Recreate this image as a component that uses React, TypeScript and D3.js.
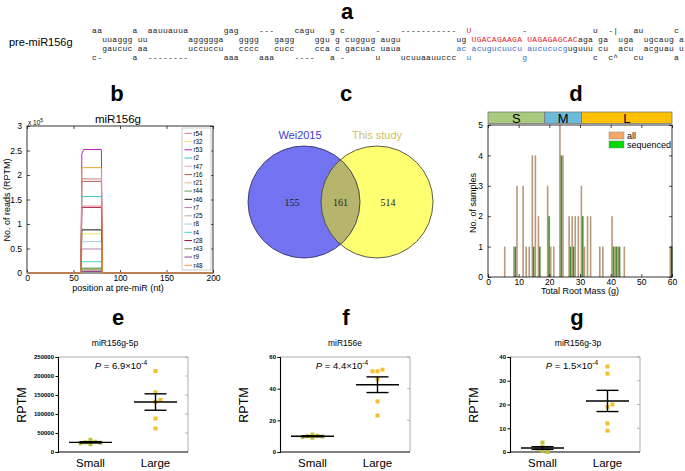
import React, { useEffect, useRef } from "react";
import * as d3 from "d3";

const FONT = "Liberation Sans, Arial, sans-serif";

// ---- a: pre-miR156g hairpin, segments alternate unpaired / paired ----
const hairpinTop = ["aa", "uuaggg", "a", "uu", "aauuauua", "aggggga", "gag", "gggg", "---", "gagg", "cagu", "ggu", "g", "g", "c", "cuggug", "-", "augu", "-----------", "ug", "U", "UGACAGAAGA", "-", "UAGAGAGCACaga", "u", "ga", "-|", "uga", "au", "ugcaug", "c", "a"];
const hairpinBottom = ["c-", "gaucuc", "a", "aa", "--------", "uccuccu", "aaa", "cccc", "aaa", "cucc", "----", "cca", "a", "c", "-", "gacuac", "u", "uaua", "ucuuaauuccc", "ac", "u", "acugucuucu", "g", "aucucucguguuu", "c", "cu", "c^", "acu", "cu", "acguau", "a", "u"];
const mature3pCols = [72, 93];

// ---- b: read coverage along pre-miR (values x10^5 RPTM) ----
const bPositions = [0, 58, 59, 61, 80, 81, 200];
const bNames = ["r54", "r32", "r53", "r2", "r47", "r16", "r21", "r44", "r46", "r7", "r25", "r8", "r4", "r28", "r43", "r9", "r48"];
const bColors = ["#c88080", "#f4e46c", "#c020c0", "#30c8c8", "#f0a8a8", "#b85858", "#e0c088", "#50a050", "#111111", "#b080b0", "#c8a8a8", "#a8c8e8", "#40d8c8", "#a01030", "#6c8c3c", "#904090", "#f0a030"];
const bLevels = [
  [0, 0, 1.92, 1.92, 1.92, 0, 0],
  [0, 0, 0.8, 0.8, 0.8, 0, 0],
  [0, 0, 2.44, 2.52, 2.52, 0, 0],
  [0, 0, 1.56, 1.56, 1.56, 0, 0],
  [0, 0, 1.37, 1.37, 1.37, 0, 0],
  [0, 0, 1.87, 1.87, 1.87, 0, 0],
  [0, 0, 0.06, 0.06, 0.06, 0, 0],
  [0, 0, 0.1, 0.1, 0.1, 0, 0],
  [0, 0, 0.88, 0.88, 0.88, 0, 0],
  [0, 0, 0.49, 0.49, 0.49, 0, 0],
  [0, 0, 0.05, 0.05, 0.05, 0, 0],
  [0, 0, 0.64, 0.64, 0.64, 0, 0],
  [0, 0, 0.23, 0.23, 0.23, 0, 0],
  [0, 0, 1.34, 1.34, 1.34, 0, 0],
  [0, 0, 0.08, 0.08, 0.08, 0, 0],
  [0, 0, 0.03, 0.03, 0.03, 0, 0],
  [0, 0, 2.15, 2.15, 2.15, 0, 0],
];
const bYTicks = [0, 0.5, 1, 1.5, 2, 2.5, 3];
const bXTicks = [0, 50, 100, 150, 200];

// ---- c: venn ----
const vennSets = ["Wei2015", "This study"];
const vennCounts = [155, 161, 514];

// ---- d: histogram of total root mass ----
const massBins = [6, 9, 10, 12, 13, 14, 15, 16, 17, 20, 21, 22, 24, 25, 27, 28, 29, 30, 31, 32, 33, 34, 37, 38, 41, 42, 43, 45, 60];
const allCounts = [1, 1, 3, 3, 1, 1, 4, 4, 2, 3, 1, 1, 5, 4, 2, 2, 2, 2, 3, 1, 2, 2, 1, 1, 2, 1, 1, 1, 1];
const seqCounts = [0, 1, 0, 0, 0, 0, 1, 0, 1, 2, 0, 0, 4, 0, 1, 1, 0, 0, 2, 0, 0, 0, 0, 0, 1, 1, 1, 0, 1];
const sizeClasses = ["S", "M", "L"];
const sizeBreaks = [0, 18.5, 30.5, 60];
const dXTicks = [0, 10, 20, 30, 40, 50, 60];
const dYTicks = [0, 1, 2, 3, 4, 5];

// ---- e, f, g: expression in small vs large roots ----
const groups = ["Small", "Large"];
const eSmall = [32000, 27000, 25500, 24500, 23000, 20500];
const eLarge = [213000, 157000, 132000, 137000, 88000, 62000];
const fSmall = [11, 10.3, 10, 9.8, 9.5, 9];
const fLarge = [51, 52, 51, 46, 32, 23];
const gSmall = [4, 2.2, 1.8, 1.4, 0.6, 0];
const gLarge = [36, 33, 19, 20, 12, 9];

const plain = (d) => String(d);

function boxAxes(g, x, y, xTicks, yTicks) {
  const [x0, x1] = x.range();
  const [y0, y1] = y.range();
  const bottom = g.append("g").attr("transform", `translate(0,${y0})`)
    .call(d3.axisBottom(x).tickValues(xTicks).tickSizeInner(-3).tickSizeOuter(0).tickPadding(1.5).tickFormat(plain));
  const left = g.append("g").attr("transform", `translate(${x0},0)`)
    .call(d3.axisLeft(y).tickValues(yTicks).tickSizeInner(-3).tickSizeOuter(0).tickPadding(5).tickFormat(plain));
  const top = g.append("g").attr("transform", `translate(0,${y1})`)
    .call(d3.axisTop(x).tickValues(xTicks).tickSizeInner(-3).tickSizeOuter(0).tickFormat(() => ""));
  const right = g.append("g").attr("transform", `translate(${x1},0)`)
    .call(d3.axisRight(y).tickValues(yTicks).tickSizeInner(-3).tickSizeOuter(0).tickFormat(() => ""));
  [bottom, left, top, right].forEach((a) => {
    a.select(".domain").remove();
    a.attr("font-family", FONT).attr("font-size", 8.5);
    a.selectAll("line").attr("stroke", "#000").attr("stroke-width", 0.7);
    a.selectAll("text").attr("fill", "#000");
  });
  g.append("rect").attr("x", x0).attr("y", y1).attr("width", x1 - x0).attr("height", y0 - y1)
    .attr("fill", "none").attr("stroke", "#000").attr("stroke-width", 0.8);
}

function dotPlot(svg, cfg) {
  const g = svg.append("g");
  const x = d3.scalePoint().domain(groups).range([cfg.x0, cfg.x0 + 130]).padding(0.5);
  const y = d3.scaleLinear().domain([0, cfg.yMax]).range([452, 357]);

  g.append("text").attr("x", cfg.titleX).attr("y", 346).attr("text-anchor", "middle")
    .attr("font-family", FONT).attr("font-size", 8.5).text(cfg.title);

  // frame: grey top/right, black left/bottom
  g.append("path").attr("d", `M${cfg.x0},357H${cfg.x0 + 130}V452`).attr("fill", "none").attr("stroke", "#999").attr("stroke-width", 0.8);
  g.append("g").selectAll("line").data(cfg.ticks.slice(1)).join("line")
    .attr("x1", cfg.x0 + 130).attr("x2", cfg.x0 + 127).attr("y1", (d) => y(d)).attr("y2", (d) => y(d))
    .attr("stroke", "#999").attr("stroke-width", 0.7);

  const ay = g.append("g").attr("transform", `translate(${cfg.x0},0)`)
    .call(d3.axisLeft(y).tickValues(cfg.ticks).tickSize(2.5).tickPadding(1.5).tickFormat(plain));
  ay.attr("font-family", FONT).attr("font-size", 6).attr("font-weight", "bold");
  ay.select(".domain").attr("stroke-width", 1.1);
  g.append("line").attr("x1", cfg.x0).attr("x2", cfg.x0 + 130).attr("y1", 452).attr("y2", 452)
    .attr("stroke", "#000").attr("stroke-width", 1.1);

  g.selectAll("text.cat").data(groups).join("text").attr("class", "cat")
    .attr("x", (d) => x(d)).attr("y", 467).attr("text-anchor", "middle")
    .attr("font-family", FONT).attr("font-size", 11.5).text((d) => d);

  g.append("text").attr("transform", `translate(${cfg.x0 - 32},405) rotate(-90)`)
    .attr("text-anchor", "middle").attr("font-family", FONT).attr("font-size", 12.5).text("RPTM");

  const pt = g.append("text").attr("x", cfg.pX).attr("y", 369).attr("text-anchor", "middle")
    .attr("font-family", FONT).attr("font-size", 9.5);
  pt.append("tspan").attr("font-style", "italic").text("P");
  pt.append("tspan").text(` = ${cfg.p}×10`);
  pt.append("tspan").attr("dy", -4).attr("font-size", 6.5).text("-4");

  [cfg.small, cfg.large].forEach((vals, gi) => {
    const cx = x(groups[gi]);
    const placed = [];
    vals.forEach((v) => {
      const py = y(v);
      const offs = [0, 5, -5, 10, -10];
      let dx = 0;
      for (const o of offs) {
        if (!placed.some((p) => Math.abs(p.dx - o) < 4 && Math.abs(p.y - py) < 3.5)) { dx = o; break; }
      }
      placed.push({ dx, y: py });
    });
    g.append("g").selectAll("rect").data(placed).join("rect")
      .attr("x", (d) => cx + d.dx - 2).attr("y", (d) => d.y - 2).attr("width", 4).attr("height", 4)
      .attr("fill", gi === 0 ? "#c2c43c" : "#f4c030");

    const m = d3.mean(vals);
    const sem = d3.deviation(vals) / Math.sqrt(vals.length);
    const eb = g.append("g").attr("stroke", "#000").attr("stroke-width", 1.4).attr("fill", "none");
    eb.append("line").attr("x1", cx - 21.5).attr("x2", cx + 21.5).attr("y1", y(m)).attr("y2", y(m));
    eb.append("line").attr("x1", cx).attr("x2", cx).attr("y1", y(m - sem)).attr("y2", y(m + sem));
    [m - sem, m + sem].forEach((v) => eb.append("line").attr("x1", cx - 11).attr("x2", cx + 11).attr("y1", y(v)).attr("y2", y(v)));
  });
}

const App = () => {
  const ref = useRef(null);

  useEffect(() => {
    const svg = d3.select(ref.current);
    svg.selectAll("*").remove();

    // panel letters
    const letters = [["a", 347, 19], ["b", 117, 101], ["c", 346, 101], ["d", 576, 101], ["e", 118, 325], ["f", 346, 325], ["g", 577, 325]];
    svg.selectAll("text.letter").data(letters).join("text").attr("class", "letter")
      .attr("x", (d) => d[1]).attr("y", (d) => d[2]).attr("text-anchor", "middle")
      .attr("font-family", FONT).attr("font-weight", "bold").attr("font-size", 22).text((d) => d[0]);

    // ---- a ----
    svg.append("text").attr("x", 9).attr("y", 46).attr("font-family", FONT).attr("font-size", 11).text("pre-miR156g");
    const chars = [];
    let col = 0;
    hairpinTop.forEach((seg, i) => {
      const paired = i % 2 === 1;
      const bot = hairpinBottom[i];
      for (let k = 0; k < seg.length; k++) {
        chars.push({ row: paired ? 1 : 0, col: col + k, ch: seg[k], top: true });
        chars.push({ row: paired ? 2 : 3, col: col + k, ch: bot[k], top: false });
      }
      col += seg.length;
    });
    const xc = d3.scaleLinear().domain([0, col]).range([92, 92 + col * 5.06]);
    const rowY = d3.scalePoint().domain([0, 1, 2, 3]).range([33, 59.5]);
    svg.append("g").attr("font-family", "Liberation Mono, monospace").attr("font-size", 8)
      .selectAll("text").data(chars.filter((c) => c.ch !== " ")).join("text")
      .attr("x", (d) => xc(d.col + 0.5)).attr("y", (d) => rowY(d.row)).attr("text-anchor", "middle")
      .attr("fill", (d) => {
        if (d.top && /[A-Z]/.test(d.ch)) return "#e2202a";
        if (!d.top && /[a-z]/.test(d.ch) && d.col >= mature3pCols[0] && d.col <= mature3pCols[1]) return "#3b6fc0";
        return "#222";
      })
      .text((d) => d.ch);

    // ---- b ----
    const gb = svg.append("g");
    const bx = d3.scaleLinear().domain([0, 200]).range([27, 213]);
    const by = d3.scaleLinear().domain([0, 3]).range([273, 126]);
    gb.append("text").attr("x", 118).attr("y", 123).attr("text-anchor", "middle").attr("font-family", FONT).attr("font-size", 11.5).text("miR156g");
    boxAxes(gb, bx, by, bXTicks, bYTicks);
    const xt = gb.append("text").attr("x", 28).attr("y", 124.5).attr("font-family", FONT).attr("font-size", 6.5).text("x 10");
    xt.append("tspan").attr("dy", -3).attr("font-size", 5).text("5");
    const line = d3.line().x((d) => bx(d[0])).y((d) => by(d[1]));
    gb.append("g").selectAll("path").data(bLevels).join("path")
      .attr("d", (vals) => line(vals.map((v, i) => [bPositions[i], v])))
      .attr("fill", "none").attr("stroke", (d, i) => bColors[i]).attr("stroke-width", 1);
    gb.append("text").attr("x", 118).attr("y", 291).attr("text-anchor", "middle").attr("font-family", FONT).attr("font-size", 9).text("position at pre-miR (nt)");
    gb.append("text").attr("transform", "translate(10,200) rotate(-90)").attr("text-anchor", "middle").attr("font-family", FONT).attr("font-size", 9).text("No. of reads (RPTM)");
    const lg = gb.append("g");
    lg.append("rect").attr("x", 182).attr("y", 128).attr("width", 29).attr("height", 142).attr("fill", "#fff").attr("stroke", "#aaa").attr("stroke-width", 0.6);
    const ly = d3.scalePoint().domain(bNames).range([133.3, 265.3]);
    const le = lg.selectAll("g").data(bNames).join("g").attr("transform", (d) => `translate(0,${ly(d)})`);
    le.append("line").attr("x1", 184.5).attr("x2", 192).attr("stroke", (d, i) => bColors[i]).attr("stroke-width", 1);
    le.append("text").attr("x", 193.5).attr("y", 2.3).attr("font-family", FONT).attr("font-size", 6.3).text((d) => d);

    // ---- c ----
    const gc = svg.append("g");
    const cx = d3.scalePoint().domain(vennSets).range([304, 377]);
    const r = 56, cy = 202;
    gc.append("clipPath").attr("id", "leftCircle").append("circle").attr("cx", cx(vennSets[0])).attr("cy", cy).attr("r", r);
    gc.append("circle").attr("cx", cx(vennSets[0])).attr("cy", cy).attr("r", r).attr("fill", "#7373f2");
    gc.append("circle").attr("cx", cx(vennSets[1])).attr("cy", cy).attr("r", r).attr("fill", "#ffff72");
    gc.append("circle").attr("cx", cx(vennSets[1])).attr("cy", cy).attr("r", r).attr("fill", "#b5b56e").attr("clip-path", "url(#leftCircle)");
    gc.append("circle").attr("cx", cx(vennSets[0])).attr("cy", cy).attr("r", r).attr("fill", "none").attr("stroke", "#2a2a55").attr("stroke-width", 0.8);
    gc.append("circle").attr("cx", cx(vennSets[1])).attr("cy", cy).attr("r", r).attr("fill", "none").attr("stroke", "#333").attr("stroke-width", 0.8);
    gc.selectAll("text.set").data(vennSets).join("text").attr("class", "set")
      .attr("x", (d, i) => cx(d) + (i === 0 ? -4 : 0)).attr("y", 139).attr("text-anchor", "middle")
      .attr("font-family", FONT).attr("font-size", 11).attr("fill", (d, i) => (i === 0 ? "#3c3cd2" : "#d2c064")).text((d) => d);
    const numX = [292, 340.5, 388];
    gc.selectAll("text.num").data(vennCounts).join("text").attr("class", "num")
      .attr("x", (d, i) => numX[i]).attr("y", 206).attr("text-anchor", "middle")
      .attr("font-family", "Liberation Serif, serif").attr("font-size", 10).attr("fill", "#222").text((d) => d);

    // ---- d ----
    const gd = svg.append("g");
    const dx = d3.scaleLinear().domain([0, 60]).range([488, 672]);
    const dy = d3.scaleLinear().domain([0, 5]).range([277, 125]);
    const bandColors = ["#a9c97f", "#6cbad8", "#ffc000"];
    gd.selectAll("rect.band").data(sizeClasses).join("rect").attr("class", "band")
      .attr("x", (d, i) => dx(sizeBreaks[i])).attr("width", (d, i) => dx(sizeBreaks[i + 1]) - dx(sizeBreaks[i]))
      .attr("y", 112).attr("height", 11.5).attr("fill", (d, i) => bandColors[i]).attr("stroke", "#7a7a7a").attr("stroke-width", 0.8);
    gd.selectAll("text.band").data(sizeClasses).join("text").attr("class", "band")
      .attr("x", (d, i) => dx((sizeBreaks[i] + sizeBreaks[i + 1]) / 2)).attr("y", 122.5).attr("text-anchor", "middle")
      .attr("font-family", FONT).attr("font-size", 13).text((d) => d);
    const bw = 1.6;
    gd.append("g").selectAll("rect").data(massBins.map((m, i) => [m, allCounts[i]]).filter((d) => d[1] > 0)).join("rect")
      .attr("x", (d) => dx(d[0] - 0.55) - bw / 2).attr("width", bw)
      .attr("y", (d) => dy(d[1])).attr("height", (d) => dy(0) - dy(d[1])).attr("fill", "#b8997c");
    gd.append("g").selectAll("rect").data(massBins.map((m, i) => [m, seqCounts[i]]).filter((d) => d[1] > 0)).join("rect")
      .attr("x", (d) => dx(d[0] - 0.1) - bw / 2).attr("width", bw)
      .attr("y", (d) => dy(d[1])).attr("height", (d) => dy(0) - dy(d[1])).attr("fill", "#478c32");
    boxAxes(gd, dx, dy, dXTicks, dYTicks);
    gd.append("text").attr("x", 580).attr("y", 294).attr("text-anchor", "middle").attr("font-family", FONT).attr("font-size", 9).text("Total Root Mass (g)");
    gd.append("text").attr("transform", "translate(476,203) rotate(-90)").attr("text-anchor", "middle").attr("font-family", FONT).attr("font-size", 9).text("No. of samples");
    const dl = [["all", "#f4a866"], ["sequenced", "#00d800"]];
    const dle = gd.selectAll("g.leg").data(dl).join("g").attr("class", "leg").attr("transform", (d, i) => `translate(0,${132 + i * 9})`);
    dle.append("rect").attr("x", 609).attr("width", 15).attr("height", 7).attr("fill", (d) => d[1]).attr("stroke", "#888").attr("stroke-width", 0.5);
    dle.append("text").attr("x", 627).attr("y", 6.5).attr("font-family", FONT).attr("font-size", 9).text((d) => d[0]);

    // ---- e, f, g ----
    dotPlot(svg, { x0: 58, yMax: 250000, ticks: [0, 50000, 100000, 150000, 200000, 250000], title: "miR156g-5p", titleX: 115, p: "6.9", pX: 121, small: eSmall, large: eLarge });
    dotPlot(svg, { x0: 280, yMax: 60, ticks: [0, 20, 40, 60], title: "miR156e", titleX: 345, p: "4.4", pX: 342, small: fSmall, large: fLarge });
    dotPlot(svg, { x0: 510, yMax: 40, ticks: [0, 10, 20, 30, 40], title: "miR156g-3p", titleX: 578, p: "1.5", pX: 572, small: gSmall, large: gLarge });
  }, []);

  return (
    <svg ref={ref} width={685} height={471} style={{ position: "absolute", left: 0, top: 0, background: "#fff" }} />
  );
};

export default App;
